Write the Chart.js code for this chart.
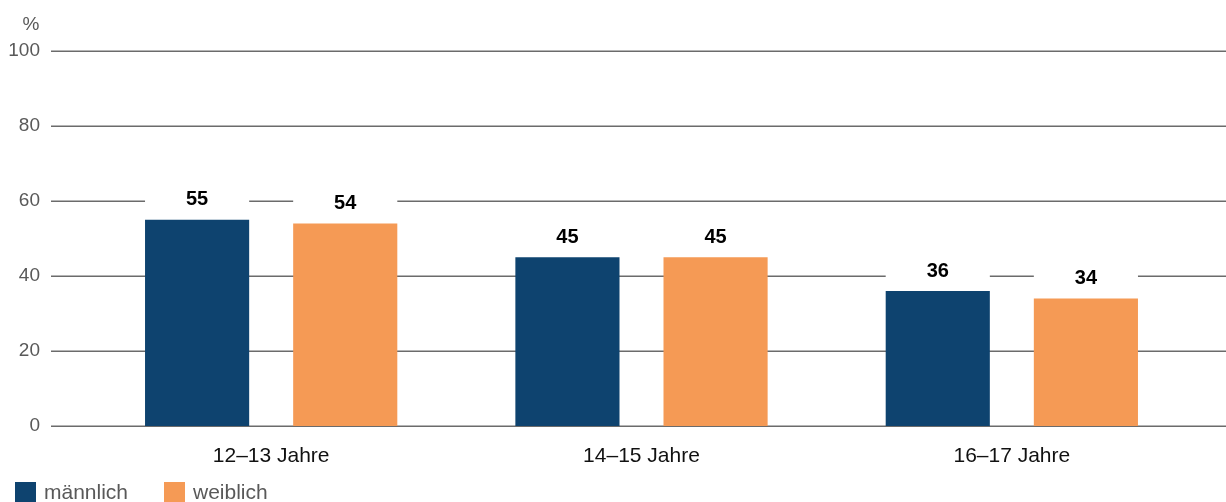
<!DOCTYPE html>
<html>
<head>
<meta charset="utf-8">
<script src="https://cdn.jsdelivr.net/npm/chart.js@4.4.0/dist/chart.umd.min.js"></script>
<style>
  html, body { margin: 0; padding: 0; background: #fff; }
  #wrap { width: 1226px; height: 502px; position: relative; }
</style>
</head>
<body>
<div id="wrap"><canvas id="render"></canvas></div>
<script>
const categories = ['12–13 Jahre', '14–15 Jahre', '16–17 Jahre'];
const maleValues = [55, 45, 36];
const femaleValues = [54, 45, 34];
const seriesNames = ['männlich', 'weiblich'];
const yTickValues = [0, 20, 40, 60, 80, 100];
const unitLabel = '%';

const FONT = "'Liberation Sans', Arial, sans-serif";
const BLUE = '#0e436f';
const ORANGE = '#f59a55';
const GREY = '#595959';

// horizontal grid lines, running past the plot area like the original
const gridLines = {
    id: 'gridLines',
    beforeDatasetsDraw(chart) {
        const ctx = chart.ctx;
        const y = chart.scales.y;
        ctx.save();
        ctx.strokeStyle = '#6b6b6b';
        ctx.lineWidth = 1.5;
        yTickValues.forEach(v => {
            const py = Math.round(y.getPixelForValue(v)) + 0.25;
            ctx.beginPath();
            ctx.moveTo(chart.chartArea.left - 35, py);
            ctx.lineTo(chart.width, py);
            ctx.stroke();
        });
        // unit label above the axis
        ctx.fillStyle = GREY;
        ctx.font = '19px ' + FONT;
        ctx.textAlign = 'center';
        ctx.textBaseline = 'middle';
        ctx.fillText(unitLabel, 31, 25);
        ctx.restore();
    }
};

// value labels on white boxes above each bar
const valueLabels = {
    id: 'valueLabels',
    afterDatasetsDraw(chart) {
        const ctx = chart.ctx;
        ctx.save();
        chart.data.datasets.forEach((ds, i) => {
            chart.getDatasetMeta(i).data.forEach((bar, j) => {
                const w = bar.width;
                ctx.fillStyle = '#ffffff';
                ctx.fillRect(bar.x - w / 2, bar.y - 31, w, 20);
                ctx.fillStyle = '#000';
                ctx.font = 'bold 20px ' + FONT;
                ctx.textAlign = 'center';
                ctx.textBaseline = 'middle';
                ctx.fillText(String(ds.data[j]), bar.x, bar.y - 20);
            });
        });
        ctx.restore();
    }
};

// legend at the bottom left
const bottomLegend = {
    id: 'bottomLegend',
    afterDraw(chart) {
        const ctx = chart.ctx;
        const xs = [15, 164];
        ctx.save();
        ctx.font = '21px ' + FONT;
        ctx.textBaseline = 'middle';
        ctx.textAlign = 'left';
        chart.data.datasets.forEach((ds, i) => {
            ctx.fillStyle = ds.backgroundColor;
            ctx.fillRect(xs[i], 482, 21, 21);
            ctx.fillStyle = GREY;
            ctx.fillText(ds.label, xs[i] + 29, 493);
        });
        ctx.restore();
    }
};

const ctx = document.getElementById('render');
new Chart(ctx, {
    type: 'bar',
    data: {
        labels: categories,
        datasets: [{
            label: seriesNames[0],
            data: maleValues,
            backgroundColor: BLUE,
            categoryPercentage: 0.8,
            barPercentage: 0.703
        }, {
            label: seriesNames[1],
            data: femaleValues,
            backgroundColor: ORANGE,
            categoryPercentage: 0.8,
            barPercentage: 0.703
        }]
    },
    options: {
        responsive: true,
        maintainAspectRatio: false,
        animation: false,
        layout: { padding: { top: 51, right: 29, left: 0, bottom: 0 } },
        plugins: {
            legend: { display: false },
            tooltip: { enabled: false }
        },
        scales: {
            x: {
                grid: { display: false },
                border: { display: false },
                ticks: {
                    color: '#111',
                    font: { family: FONT, size: 21 },
                    padding: 10
                },
                afterFit(scale) { scale.height = 76; }
            },
            y: {
                min: 0,
                max: 100,
                grid: { display: false, drawTicks: false },
                border: { display: false },
                ticks: {
                    stepSize: 20,
                    color: GREY,
                    font: { family: FONT, size: 19 },
                    padding: 46
                },
                afterFit(scale) {
                    scale.width = 86;
                    scale.paddingTop = 12;
                    scale.paddingBottom = 12;
                }
            }
        }
    },
    plugins: [gridLines, valueLabels, bottomLegend]
});
</script>
</body>
</html>
